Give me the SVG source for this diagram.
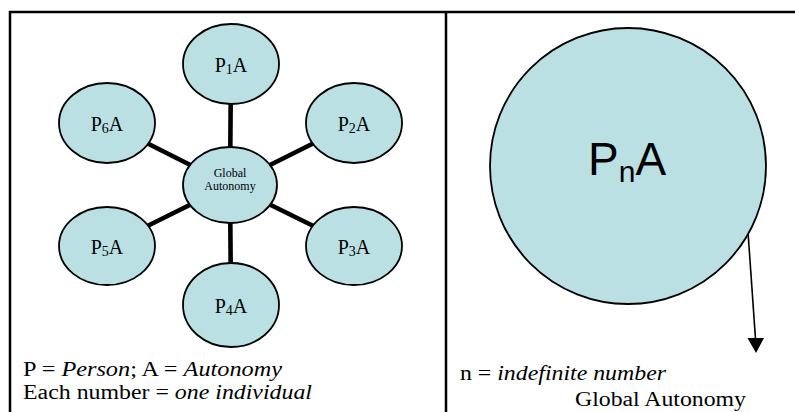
<svg xmlns="http://www.w3.org/2000/svg" width="795" height="412" viewBox="0 0 795 412">
<defs>
<style>
.node{fill:#bae0e4;stroke:#000;stroke-width:1.8}
.spoke{stroke:#000;stroke-width:4.6;fill:none}
.frame{stroke:#000;stroke-width:2.5;fill:none}
.lbl{font-family:"Liberation Serif","Times New Roman",serif;font-size:20px;fill:#000;text-anchor:middle}
.sub{font-size:14px}
.small{font-family:"Liberation Serif","Times New Roman",serif;font-size:12px;fill:#000;text-anchor:middle}
.leg{font-family:"Liberation Serif","Times New Roman",serif;font-size:20px;fill:#000}
.it{font-style:italic}
</style>
</defs>
<rect x="0" y="0" width="795" height="412" fill="#fff"/>
<g id="frame">
<path class="frame" d="M10,412 V12 H795"/>
<path class="frame" d="M446,12 V412"/>
</g>
<g id="connectors">
<line class="spoke" x1="230" y1="185" x2="231" y2="64"/>
<line class="spoke" x1="230" y1="185" x2="354" y2="123"/>
<line class="spoke" x1="230" y1="185" x2="354" y2="246"/>
<line class="spoke" x1="230" y1="185" x2="231" y2="305"/>
<line class="spoke" x1="230" y1="185" x2="107" y2="246"/>
<line class="spoke" x1="230" y1="185" x2="107" y2="123"/>
<line x1="748" y1="232" x2="755.5" y2="339" stroke="#000" stroke-width="1.6"/>
<polygon points="747.5,338 764,338 756,353" fill="#000"/>
</g>
<g id="global">
<ellipse class="node" cx="230" cy="185" rx="47" ry="38"/>
<text class="small" x="230" y="177">Global</text>
<text class="small" x="230" y="190">Autonomy</text>
</g>
<g id="p1">
<ellipse class="node" cx="231" cy="64" rx="48" ry="40"/>
<text class="lbl" x="231" y="72">P<tspan class="sub" dy="2">1</tspan><tspan dy="-2">A</tspan></text>
</g>
<g id="p2">
<ellipse class="node" cx="354" cy="123" rx="48" ry="40"/>
<text class="lbl" x="354" y="131">P<tspan class="sub" dy="2">2</tspan><tspan dy="-2">A</tspan></text>
</g>
<g id="p3">
<ellipse class="node" cx="354" cy="246" rx="48" ry="39"/>
<text class="lbl" x="354" y="254">P<tspan class="sub" dy="2">3</tspan><tspan dy="-2">A</tspan></text>
</g>
<g id="p4">
<ellipse class="node" cx="231" cy="305" rx="48" ry="42"/>
<text class="lbl" x="231" y="313">P<tspan class="sub" dy="2">4</tspan><tspan dy="-2">A</tspan></text>
</g>
<g id="p5">
<ellipse class="node" cx="107" cy="246" rx="48" ry="39"/>
<text class="lbl" x="107" y="254">P<tspan class="sub" dy="2">5</tspan><tspan dy="-2">A</tspan></text>
</g>
<g id="p6">
<ellipse class="node" cx="107" cy="123" rx="48" ry="40"/>
<text class="lbl" x="107" y="131">P<tspan class="sub" dy="2">6</tspan><tspan dy="-2">A</tspan></text>
</g>
<g id="legend-left">
<text class="leg" x="23" y="376" textLength="259" lengthAdjust="spacingAndGlyphs">P = <tspan class="it">Person</tspan>; A = <tspan class="it">Autonomy</tspan></text>
<text class="leg" x="23" y="399" textLength="289" lengthAdjust="spacingAndGlyphs">Each number = <tspan class="it">one individual</tspan></text>
</g>
<g id="pn">
<circle class="node" cx="628" cy="166" r="138" stroke-width="1.5"/>
<text x="588" y="175" font-family="'Liberation Sans',Arial,sans-serif" font-size="46" fill="#000">P<tspan font-size="30" dy="7">n</tspan><tspan dy="-7">A</tspan></text>
</g>
<g id="legend-right">
<text class="leg" x="460" y="380" textLength="206" lengthAdjust="spacingAndGlyphs">n = <tspan class="it">indefinite number</tspan></text>
<text class="leg" x="575" y="406" textLength="171" lengthAdjust="spacingAndGlyphs">Global Autonomy</text>
</g>
</svg>
